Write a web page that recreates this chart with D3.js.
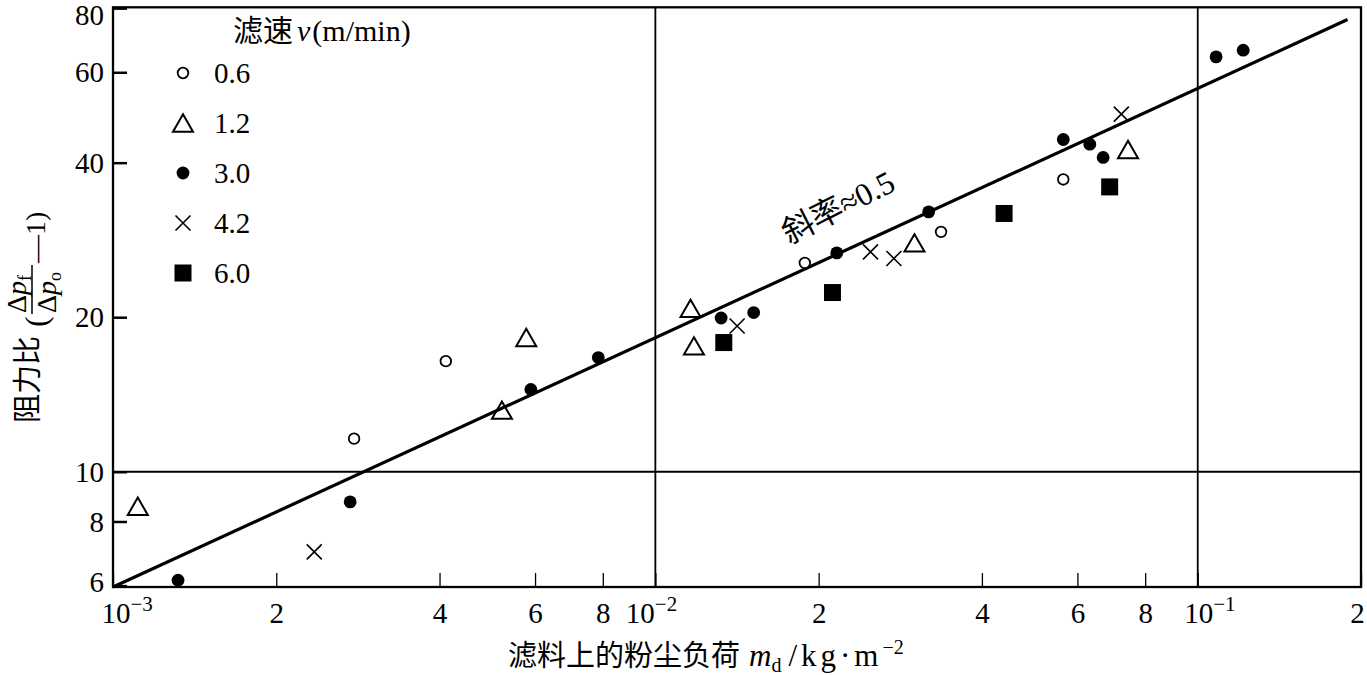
<!DOCTYPE html>
<html><head><meta charset="utf-8">
<script src="https://cdn.jsdelivr.net/npm/d3@7"></script>
<style>
html,body{margin:0;padding:0;background:#fff;}
svg{display:block;}
text{font-family:"Liberation Serif","Noto Sans CJK SC",serif;fill:#000;}
</style></head><body>
<svg id="chart" width="1367" height="675"></svg>
<script>
// ---------- data ----------
const speedLabels = ["0.6", "1.2", "3.0", "4.2", "6.0"];
const speedKinds  = ["openCircle", "triangle", "dot", "cross", "square"];

const load06  = [0.002783, 0.004108, 0.01886, 0.03363, 0.05651];
const ratio06 = [11.6, 16.42, 25.52, 29.33, 37.1];

const load12  = [0.001111, 0.005213, 0.005780, 0.01161, 0.01178, 0.03004, 0.07438];
const ratio12 = [8.566, 13.18, 18.26, 20.80, 17.59, 27.92, 42.44];

const load30  = [0.001318, 0.002737, 0.005894, 0.007848, 0.01322, 0.01518, 0.02160, 0.03191, 0.05651, 0.06324, 0.06693, 0.1081, 0.1213];
const ratio30 = [6.147, 8.735, 14.46, 16.69, 19.93, 20.42, 26.69, 32.08, 44.38, 43.46, 40.95, 64.29, 66.24];

const load42  = [0.00235, 0.01415, 0.02493, 0.02753, 0.07230];
const ratio42 = [6.98, 19.23, 26.81, 26.03, 49.72];

const load60  = [0.01337, 0.02121, 0.04395, 0.06881];
const ratio60 = [17.85, 22.34, 31.85, 35.88];

const fitLoad  = [0.001, 0.1889];
const fitRatio = [5.963, 76.0];

const xTickValues = [0.001, 0.002, 0.004, 0.006, 0.008, 0.01, 0.02, 0.04, 0.06, 0.08, 0.1, 0.2];
const xTickLabels = ["10|−3", "2", "4", "6", "8", "10|−2", "2", "4", "6", "8", "10|−1", "2"];
const yTickValues = [6, 8, 10, 20, 40, 60, 80];
const yTickLabels = ["6", "8", "10", "20", "40", "60", "80"];
const xGridValues = [0.01, 0.1];
const yGridValues = [10];

// ---------- setup ----------
const svg = d3.select("#chart");
const x = d3.scaleLog().domain([0.001, 0.2]).range([113, 1361]);
const y = d3.scaleLog().domain([5.963, 80.3]).range([587, 7.3]);

const seriesLoads  = [load06, load12, load30, load42, load60];
const seriesRatios = [ratio06, ratio12, ratio30, ratio42, ratio60];

function drawMark(sel, kind) {
  if (kind === "openCircle") {
    sel.append("circle").attr("r", 5.3).attr("fill", "#fff").attr("stroke", "#000").attr("stroke-width", 1.8);
  } else if (kind === "dot") {
    sel.append("circle").attr("r", 6.4).attr("fill", "#000");
  } else if (kind === "square") {
    sel.append("path").attr("d", d3.symbol(d3.symbolSquare, 17 * 17)()).attr("fill", "#000");
  } else if (kind === "triangle") {
    const s = 20, h = s * 0.866;
    const p = d3.path();
    p.moveTo(0, -h / 2); p.lineTo(s / 2, h / 2); p.lineTo(-s / 2, h / 2); p.closePath();
    sel.append("path").attr("d", p.toString()).attr("fill", "none").attr("stroke", "#000").attr("stroke-width", 2);
  } else if (kind === "cross") {
    const r = 7.5;
    const p = d3.path();
    p.moveTo(-r, -r); p.lineTo(r, r); p.moveTo(r, -r); p.lineTo(-r, r);
    sel.append("path").attr("d", p.toString()).attr("fill", "none").attr("stroke", "#000").attr("stroke-width", 1.6);
  }
}

// gridlines
svg.append("g").selectAll("line").data(xGridValues).join("line")
  .attr("x1", d => x(d)).attr("x2", d => x(d))
  .attr("y1", y.range()[0]).attr("y2", y.range()[1])
  .attr("stroke", "#000").attr("stroke-width", 1.8);
svg.append("g").selectAll("line").data(yGridValues).join("line")
  .attr("x1", x.range()[0]).attr("x2", x.range()[1])
  .attr("y1", d => y(d)).attr("y2", d => y(d))
  .attr("stroke", "#000").attr("stroke-width", 2);

// x axis
const xAxisG = svg.append("g").attr("transform", `translate(0,${y.range()[0]})`)
  .call(d3.axisBottom(x).tickValues(xTickValues).tickSizeInner(-14).tickSizeOuter(0).tickFormat(""));
xAxisG.select(".domain").remove();
xAxisG.selectAll(".tick line").attr("stroke", "#000").attr("stroke-width", 1.3);
xAxisG.selectAll(".tick").each(function (d, i) {
  const lab = xTickLabels[i];
  const t = d3.select(this).append("text").attr("y", 36).attr("fill", "#000")
    .style("font-size", "29px");
  if (lab.includes("|")) {
    const [base, sup] = lab.split("|");
    let shift = -14;
    if (d === 0.001) shift = -12;
    if (d === 0.01) shift = -30;
    t.attr("text-anchor", "start").attr("x", shift);
    t.append("tspan").text(base);
    t.append("tspan").attr("dy", -12).style("font-size", "21px").text(sup);
  } else {
    t.attr("text-anchor", "middle").attr("x", d === 0.2 ? -4 : 0).text(lab);
  }
});

// y axis
const yAxisG = svg.append("g").attr("transform", `translate(${x.range()[0]},0)`)
  .call(d3.axisLeft(y).tickValues(yTickValues).tickSizeInner(-14).tickSizeOuter(0).tickPadding(9)
    .tickFormat((d, i) => yTickLabels[i]));
yAxisG.select(".domain").remove();
yAxisG.selectAll(".tick line").attr("stroke", "#000").attr("stroke-width", 2.5);
yAxisG.selectAll(".tick text").attr("fill", "#000").style("font-size", "29px")
  .style("font-family", '"Liberation Serif", serif')
  .attr("dy", d => d === 80 ? "0.58em" : (d === 6 ? "0.2em" : "0.33em"));

// frame
svg.append("rect")
  .attr("x", x.range()[0]).attr("y", y.range()[1])
  .attr("width", x.range()[1] - x.range()[0]).attr("height", y.range()[0] - y.range()[1])
  .attr("fill", "none").attr("stroke", "#000").attr("stroke-width", 2.3);

// fit line
const fitData = fitLoad.map((v, i) => [v, fitRatio[i]]);
svg.append("path").datum(fitData)
  .attr("d", d3.line().x(d => x(d[0])).y(d => y(d[1])))
  .attr("fill", "none").attr("stroke", "#000").attr("stroke-width", 3.2);

// points
seriesLoads.forEach((loads, si) => {
  const pts = loads.map((v, i) => [v, seriesRatios[si][i]]);
  svg.append("g").selectAll("g").data(pts).join("g")
    .attr("transform", d => `translate(${x(d[0])},${y(d[1])})`)
    .each(function () { drawMark(d3.select(this), speedKinds[si]); });
});

// slope annotation
svg.append("text").attr("transform", "translate(838,207) rotate(-27)")
  .attr("text-anchor", "middle").attr("dy", "0.35em").style("font-size", "32px")
  .text("斜率≈0.5");

// legend
const legTitle = svg.append("text").attr("x", 233).attr("y", 41).style("font-size", "30px");
legTitle.append("tspan").text("滤速");
legTitle.append("tspan").attr("dx", 4).style("font-style", "italic").text("v");
legTitle.append("tspan").attr("dx", 2).text("(m/min)");

const leg = svg.append("g").selectAll("g").data(speedLabels).join("g")
  .attr("transform", (d, i) => `translate(183,${73 + i * 50})`);
leg.each(function (d, i) { drawMark(d3.select(this), speedKinds[i]); });
leg.append("text").attr("x", 31).attr("dy", "0.34em").style("font-size", "29px").text(d => d);

// x title
const xt = svg.append("text").attr("x", 508).attr("y", 666).style("font-size", "29px");
xt.append("tspan").text("滤料上的粉尘负荷");
xt.append("tspan").attr("dx", 9).style("font-size", "31px").style("font-style", "italic").text("m");
xt.append("tspan").attr("dy", 6).style("font-size", "20px").text("d");
xt.append("tspan").attr("dy", -6).attr("dx", 7).style("font-size", "31px").style("letter-spacing", "4px").text("/kg·m");
xt.append("tspan").attr("dy", -12).style("font-size", "20px").text("−2");

// y title
const yl = svg.append("g").attr("transform", "translate(5,430) rotate(-90)");
yl.append("text").attr("x", 7).attr("y", 33).style("font-size", "29px").text("阻力比");
yl.append("text").attr("x", 103).attr("y", 42).style("font-size", "32px").text("(");
const num = yl.append("text").attr("x", 117).attr("y", 21).style("font-size", "28px");
num.append("tspan").text("Δ");
num.append("tspan").style("font-style", "italic").text("p");
num.append("tspan").attr("dy", 5).style("font-size", "18px").text("f");
yl.append("line").attr("x1", 116).attr("x2", 165).attr("y1", 27).attr("y2", 27)
  .attr("stroke", "#000").attr("stroke-width", 1.5);
const den = yl.append("text").attr("x", 117).attr("y", 51).style("font-size", "28px");
den.append("tspan").text("Δ");
den.append("tspan").style("font-style", "italic").text("p");
den.append("tspan").attr("dy", 5).style("font-size", "18px").text("o");
yl.append("text").attr("x", 167).attr("y", 40).style("font-size", "28px").text("—1)");
</script>
</body></html>
